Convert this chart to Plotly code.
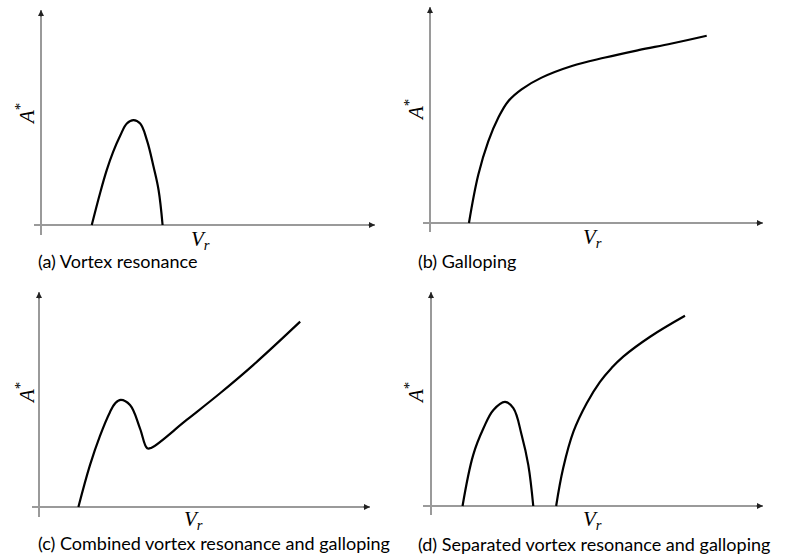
import plotly.graph_objects as go

# ---- data (arbitrary units: V_r and A* both run 0..10 on each panel) ----
vr_a = [1.52, 1.77, 1.97, 2.16, 2.37, 2.57, 2.77, 2.97, 3.17, 3.37, 3.52, 3.64]
amp_a = [0.0, 1.49, 2.56, 3.40, 4.15, 4.72, 4.88, 4.72, 3.95, 2.71, 1.63, 0.0]

vr_b = [1.17, 1.45, 1.75, 2.05, 2.35, 2.75, 3.35, 4.26, 5.26, 6.26, 7.26, 8.31]
amp_b = [0.0, 2.23, 3.78, 4.87, 5.64, 6.19, 6.73, 7.27, 7.66, 8.00, 8.31, 8.67]

vr_c = [1.19, 1.54, 1.84, 2.14, 2.30, 2.47, 2.75, 3.05, 3.27, 3.40, 4.46, 5.47, 6.47, 7.89]
amp_c = [0.0, 1.95, 3.30, 4.40, 4.82, 4.98, 4.74, 3.66, 2.73, 2.76, 4.05, 5.29, 6.60, 8.62]

vr_d1 = [0.95, 1.27, 1.58, 1.88, 2.23, 2.48, 2.73, 2.93, 3.08]
amp_d1 = [0.0, 2.38, 3.63, 4.49, 4.87, 4.57, 3.32, 1.92, 0.0]

vr_d2 = [3.77, 3.98, 4.29, 4.69, 5.09, 5.44, 5.79, 6.60, 7.65]
amp_d2 = [0.0, 1.76, 3.47, 4.80, 5.80, 6.45, 6.98, 7.91, 8.89]

captions = [
    "(a) Vortex resonance",
    "(b) Galloping",
    "(c) Combined vortex resonance and galloping",
    "(d) Separated vortex resonance and galloping",
]

W, H = 792, 557

# panel frames in pixels: origin (x0, y0), x-axis left end, x-arrow tip, y-arrow tip, y-axis bottom end
panels = [
    dict(ox=41, oy=225, xl=34, xt=375, yt=10, yb=235),
    dict(ox=430, oy=223, xl=423, xt=763, yt=7, yb=232),
    dict(ox=39, oy=507, xl=32, xt=370, yt=292, yb=517),
    dict(ox=431, oy=506, xl=423, xt=763, yt=292, yb=515),
]
# label positions in pixels
astar_pos = [(25, 114), (414, 110), (25, 393), (414, 393)]
vr_pos = [(200, 240), (592, 238), (193, 520), (592, 520)]
cap_pos = [(36, 261), (416, 261), (36, 543), (416, 544)]

series = [
    [(vr_a, amp_a)],
    [(vr_b, amp_b)],
    [(vr_c, amp_c)],
    [(vr_d1, amp_d1), (vr_d2, amp_d2)],
]

AXIS_GREY = "#9a9a9a"
serif = "Liberation Serif"
sans = "Lato"

fig = go.Figure()
layout = dict(
    width=W, height=H,
    margin=dict(l=0, r=0, t=0, b=0),
    paper_bgcolor="white", plot_bgcolor="white",
    showlegend=False,
)
annotations = []

for i, p in enumerate(panels):
    k = "" if i == 0 else str(i + 1)
    xpx = (p["xt"] - p["ox"]) / 10.0
    ypx = (p["oy"] - p["yt"]) / 10.0
    xmin = (p["xl"] - p["ox"]) / xpx
    ymin = (p["oy"] - p["yb"]) / ypx
    layout["xaxis" + k] = dict(
        domain=[p["xl"] / W, p["xt"] / W], range=[xmin, 10],
        showgrid=False, showticklabels=False, ticks="", showline=False,
        zeroline=True, zerolinecolor=AXIS_GREY, zerolinewidth=1.5,
        anchor="y" + k, fixedrange=True,
    )
    layout["yaxis" + k] = dict(
        domain=[1 - p["yb"] / H, 1 - p["yt"] / H], range=[ymin, 10],
        showgrid=False, showticklabels=False, ticks="", showline=False,
        zeroline=True, zerolinecolor=AXIS_GREY, zerolinewidth=1.5,
        anchor="x" + k, fixedrange=True,
    )
    for xs, ys in series[i]:
        fig.add_trace(go.Scatter(
            x=xs, y=ys, mode="lines", xaxis="x" + k, yaxis="y" + k,
            line=dict(color="black", width=2.2, shape="spline", smoothing=1.1),
            hoverinfo="skip",
        ))
    # arrowheads on both axes
    annotations.append(dict(x=10, y=0, xref="x" + k, yref="y" + k, ax=-8, ay=0,
                            showarrow=True, arrowhead=2, arrowsize=1, arrowwidth=1.2,
                            arrowcolor="#222", standoff=0, text=""))
    annotations.append(dict(x=0, y=10, xref="x" + k, yref="y" + k, ax=0, ay=8,
                            showarrow=True, arrowhead=2, arrowsize=1, arrowwidth=1.2,
                            arrowcolor="#222", standoff=0, text=""))
    # axis titles
    ax_, ay_ = astar_pos[i]
    annotations.append(dict(x=ax_ / W, y=1 - ay_ / H, xref="paper", yref="paper",
                            text="<i>A</i><sup>*</sup>", showarrow=False, textangle=-90,
                            font=dict(family=serif, size=21, color="black"),
                            xanchor="center", yanchor="middle"))
    vx, vy = vr_pos[i]
    annotations.append(dict(x=vx / W, y=1 - vy / H, xref="paper", yref="paper",
                            text="<i>V<sub>r</sub></i>", showarrow=False,
                            font=dict(family=serif, size=21, color="black"),
                            xanchor="center", yanchor="middle"))
    cx, cy = cap_pos[i]
    annotations.append(dict(x=cx / W, y=1 - cy / H, xref="paper", yref="paper",
                            text=captions[i], showarrow=False,
                            font=dict(family=sans, size=18, color="black"),
                            xanchor="left", yanchor="middle"))

layout["annotations"] = annotations
fig.update_layout(**layout)
fig.write_html("out.html")
